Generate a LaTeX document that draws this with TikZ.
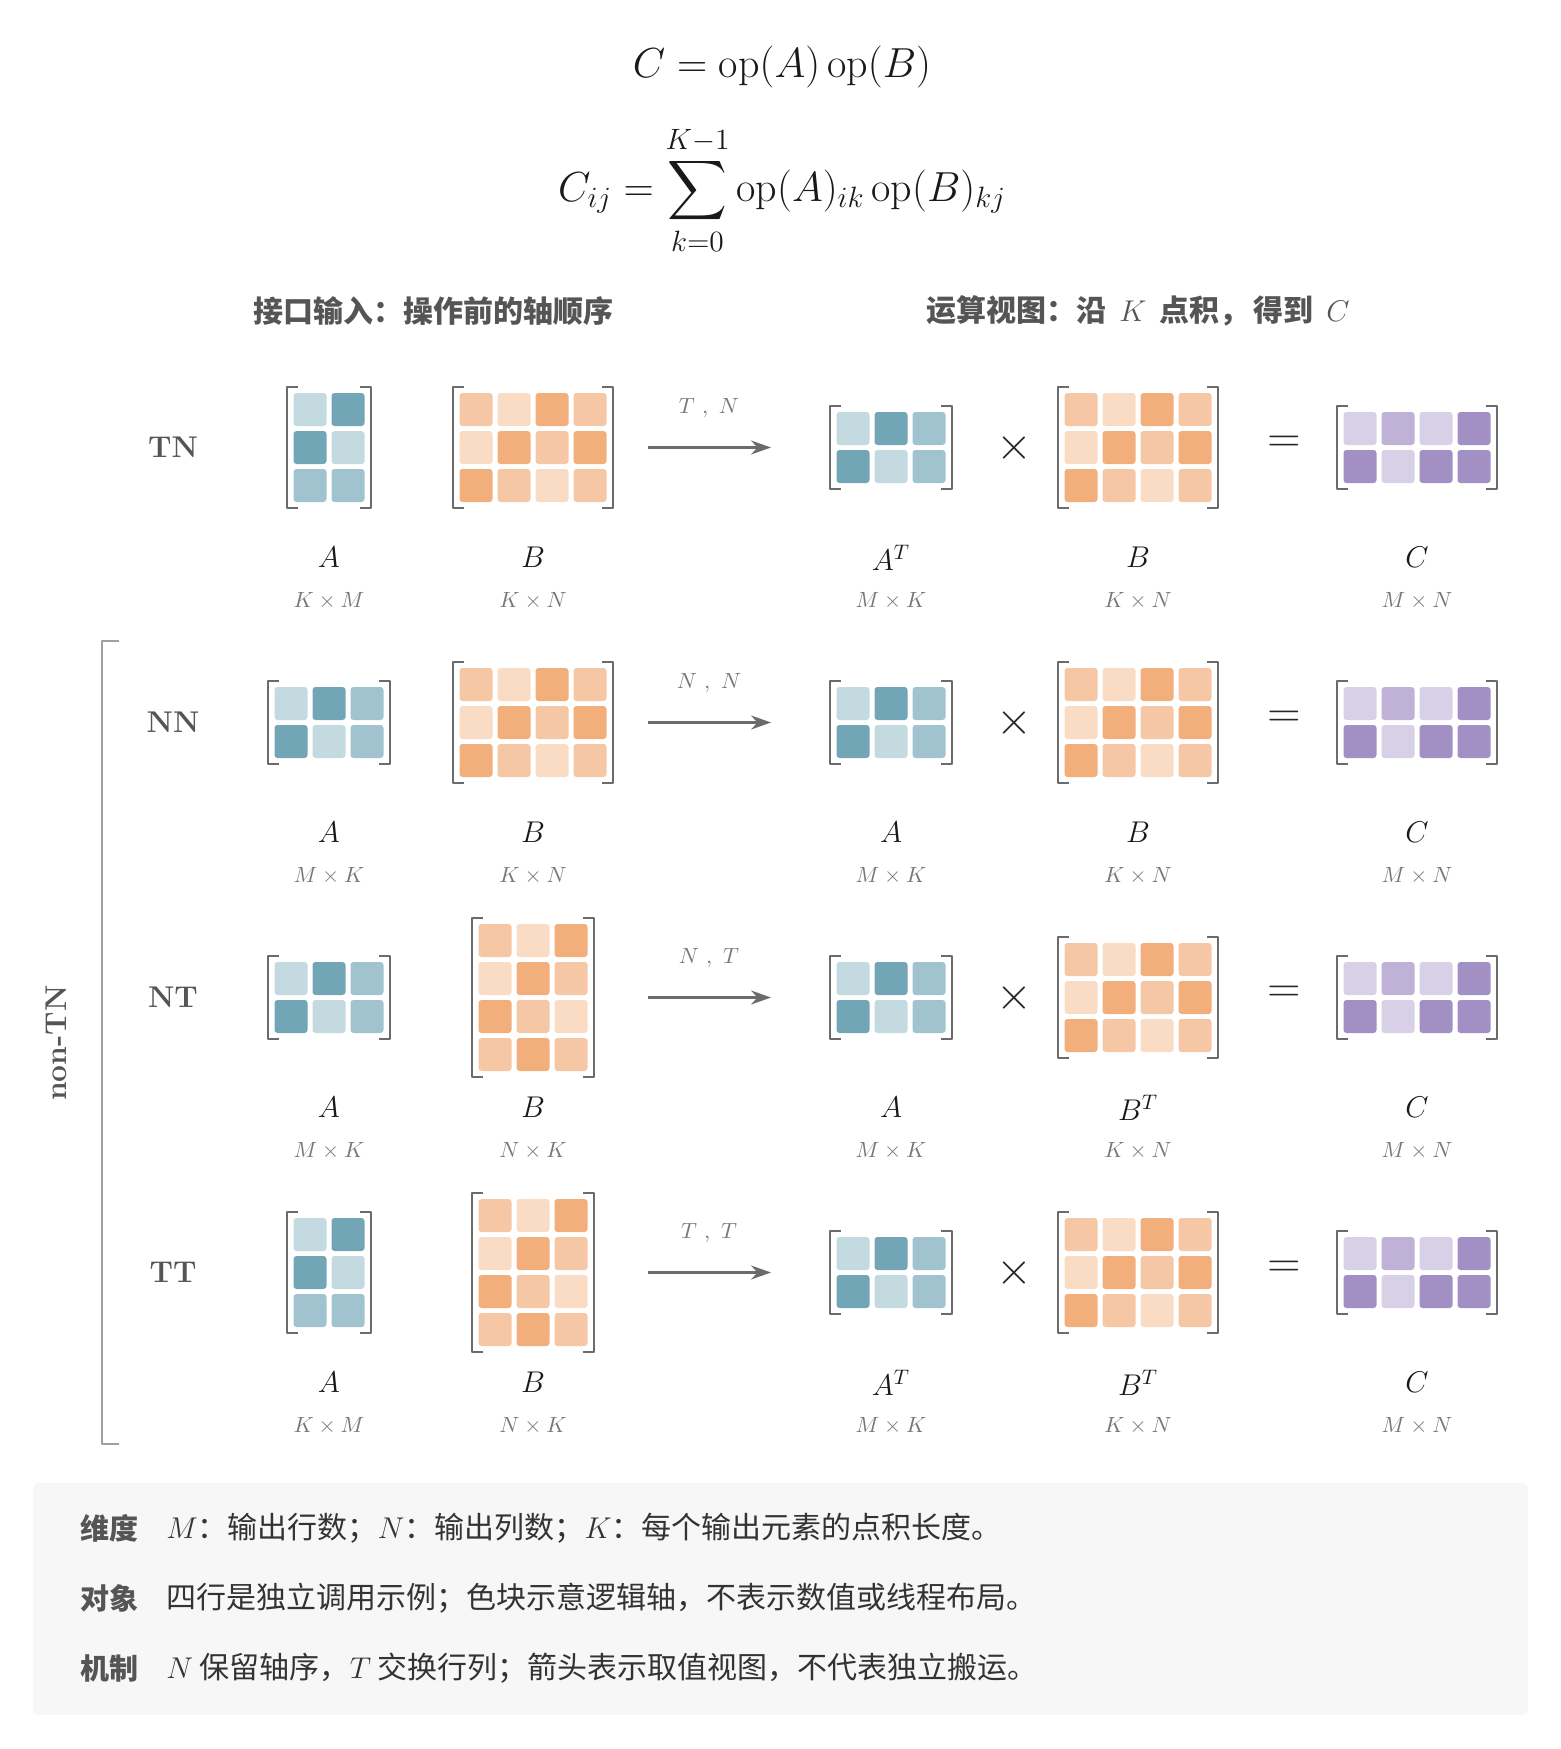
\RequirePackage{fix-cm}
\documentclass[tikz,border=0pt]{standalone}
\usepackage{amsmath}
\usepackage{fontspec}
\newfontfamily\cjk{Noto Sans CJK SC}
\usetikzlibrary{arrows.meta}

\definecolor{blu1}{HTML}{C3DAE1}
\definecolor{blu2}{HTML}{A0C3CF}
\definecolor{blu3}{HTML}{72A6B7}
\definecolor{org1}{HTML}{FADCC5}
\definecolor{org2}{HTML}{F6C7A4}
\definecolor{org3}{HTML}{F2AE7B}
\definecolor{pur1}{HTML}{D8D0E6}
\definecolor{pur2}{HTML}{BFB2D6}
\definecolor{pur3}{HTML}{A28FC4}
\definecolor{inkgray}{HTML}{555555}
\definecolor{dimgray}{HTML}{777777}
\definecolor{brkgray}{HTML}{6B6B6B}
\definecolor{grpgray}{HTML}{A0A0A0}
\definecolor{boxbg}{HTML}{F7F7F7}

\tikzset{
  formula/.style={font=\fontsize{21}{25}\selectfont, text=black!90},
  head/.style={font=\fontsize{15}{18}\selectfont\cjk\bfseries, text=inkgray},
  rowlab/.style={font=\fontsize{15}{18}\selectfont\bfseries, text=inkgray},
  mname/.style={font=\fontsize{15}{18}\selectfont, text=black!90},
  dimlab/.style={font=\fontsize{11}{13}\selectfont, text=dimgray},
  opsym/.style={font=\fontsize{23}{26}\selectfont, text=black!85},
  flow/.style={draw=brkgray, line width=1.2pt, -{Stealth[length=10pt,width=7pt]}},
  brk/.style={draw=brkgray, line width=1pt},
  note/.style={anchor=west, inner sep=0pt, font=\fontsize{15}{18}\selectfont\cjk, text=black!80},
  notelab/.style={anchor=west, inner sep=0pt, font=\fontsize{14.5}{17}\selectfont\cjk\bfseries, text=inkgray},
}

% x, y, colour prefix, cols, rows, entries (1 light .. 3 dark)
\newcommand{\cellmat}[6]{%
  \pgfmathsetmacro\cmw{#4*38-5}%
  \pgfmathsetmacro\cmh{#5*38-5}%
  \pgfmathsetmacro\cmx{#1-\cmw/2}%
  \pgfmathsetmacro\cmy{#2-\cmh/2}%
  \foreach \row [count=\i from 0] in {#6}{
    \foreach \v [count=\j from 0] in \row
      \fill[#3\v, rounded corners=1.5pt] ({\cmx+\j*38},{\cmy+\i*38}) rectangle ++(33,33);
  }
  \draw[brk] ({\cmx+4.5},{\cmy-6}) -| ({\cmx-6.5},{\cmy+\cmh+6}) -- ++(11,0);
  \draw[brk] ({\cmx+\cmw-4.5},{\cmy-6}) -| ({\cmx+\cmw+6.5},{\cmy+\cmh+6}) -- ++(-11,0);
}

\begin{document}
\begin{tikzpicture}[x=0.5pt, y=-0.5pt, line join=round]
  \useasboundingbox (0,0) rectangle (1560,1749);
  \def\xA{329} \def\xB{533} \def\xoA{891} \def\xt{1014} \def\xoB{1138} \def\xe{1284} \def\xC{1417}

  % formulas
  \node[formula] (eqC) at (782,67) {$C=\mathrm{op}(A)\,\mathrm{op}(B)$};
  \node[formula] (eqS) at (782,190) {$\displaystyle C_{ij}=\sum_{k=0}^{K-1}\mathrm{op}(A)_{ik}\,\mathrm{op}(B)_{kj}$};

  % column heads
  \node[head] (hin) at (433,311) {接口输入：操作前的轴顺序};
  \node[head] (hop) at (1138,311) {运算视图：沿\hspace{3pt} \mdseries$K$\bfseries{}\hspace{3pt} 点积，\hspace{2pt}得到\hspace{3pt} \mdseries$C$};

  % right side: the view the kernel computes with
  \foreach \y/\k/\nA/\nB/\ta/\tb in {447.5/tn/A^T/B/T/N, 722.5/nn/A/B/N/N, 997.5/nt/A/B^T/N/T, 1272.5/tt/A^T/B^T/T/T}{
    \cellmat{\xoA}{\y}{blu}{3}{2}{{1,3,2},{3,1,2}}
    \cellmat{\xoB}{\y}{org}{4}{3}{{2,1,3,2},{1,3,2,3},{3,2,1,2}}
    \cellmat{\xC}{\y}{pur}{4}{2}{{1,2,1,3},{3,1,3,3}}
    \node[opsym] (x\k) at (\xt,\y) {$\times$};
    \node[opsym] (e\k) at (\xe,\y-3) {$=$};
    \node[mname] (na\k) at (\xoA,\y+110) {$\nA$};
    \node[mname] (nb\k) at (\xoB,\y+110) {$\nB$};
    \node[mname] (nc\k) at (\xC,\y+110) {$C$};
    \node[dimlab] (da\k) at (\xoA,\y+153) {$M\times K$};
    \node[dimlab] (db\k) at (\xoB,\y+153) {$K\times N$};
    \node[dimlab] (dc\k) at (\xC,\y+153) {$M\times N$};
    \coordinate (s\k) at (648,\y);
    \coordinate (t\k) at (771,\y);
    \draw[flow] (s\k) -- (t\k);
    \node[dimlab] (tr\k) at (709,\y-39) {$\ta\ ,\ \tb$};
  }

  % left side: operands as passed in
  \node[rowlab] (ltn) at (173,447.5) {TN};
  \cellmat{\xA}{447.5}{blu}{2}{3}{{1,3},{3,1},{2,2}}
  \cellmat{\xB}{447.5}{org}{4}{3}{{2,1,3,2},{1,3,2,3},{3,2,1,2}}
  \node[mname] (atn) at (\xA,557.5) {$A$};
  \node[mname] (btn) at (\xB,557.5) {$B$};
  \node[dimlab] (satn) at (\xA,600.5) {$K\times M$};
  \node[dimlab] (sbtn) at (\xB,600.5) {$K\times N$};

  \node[rowlab] (lnn) at (173,722.5) {NN};
  \cellmat{\xA}{722.5}{blu}{3}{2}{{1,3,2},{3,1,2}}
  \cellmat{\xB}{722.5}{org}{4}{3}{{2,1,3,2},{1,3,2,3},{3,2,1,2}}
  \node[mname] (ann) at (\xA,832.5) {$A$};
  \node[mname] (bnn) at (\xB,832.5) {$B$};
  \node[dimlab] (sann) at (\xA,875.5) {$M\times K$};
  \node[dimlab] (sbnn) at (\xB,875.5) {$K\times N$};

  \node[rowlab] (lnt) at (173,997.5) {NT};
  \cellmat{\xA}{997.5}{blu}{3}{2}{{1,3,2},{3,1,2}}
  \cellmat{\xB}{997.5}{org}{3}{4}{{2,1,3},{1,3,2},{3,2,1},{2,3,2}}
  \node[mname] (ant) at (\xA,1107.5) {$A$};
  \node[mname] (bnt) at (\xB,1107.5) {$B$};
  \node[dimlab] (sant) at (\xA,1150.5) {$M\times K$};
  \node[dimlab] (sbnt) at (\xB,1150.5) {$N\times K$};

  \node[rowlab] (ltt) at (173,1272.5) {TT};
  \cellmat{\xA}{1272.5}{blu}{2}{3}{{1,3},{3,1},{2,2}}
  \cellmat{\xB}{1272.5}{org}{3}{4}{{2,1,3},{1,3,2},{3,2,1},{2,3,2}}
  \node[mname] (att) at (\xA,1382.5) {$A$};
  \node[mname] (btt) at (\xB,1382.5) {$B$};
  \node[dimlab] (satt) at (\xA,1425.5) {$K\times M$};
  \node[dimlab] (sbtt) at (\xB,1425.5) {$N\times K$};

  % group bracket
  \draw[draw=grpgray, line width=1pt] (119,641) -- (102,641) -- (102,1444) -- (119,1444);
  \node[rowlab, rotate=90] (grp) at (56,1043) {non-TN};

  % notes
  \fill[boxbg, rounded corners=3pt] (33,1483) rectangle (1528,1715);
  \node[notelab] (k1) at (80,1528) {维度};
  \node[note] (t1) at (166,1528) {$M$：输出行数；$N$：输出列数；$K$：每个输出元素的点积长度。};
  \node[notelab] (k2) at (80,1598) {对象};
  \node[note] (t2) at (166,1598) {四行是独立调用示例；色块示意逻辑轴，不表示数值或线程布局。};
  \node[notelab] (k3) at (80,1668) {机制};
  \node[note] (t3) at (166,1668) {$N$ 保留轴序，$T$ 交换行列；箭头表示取值视图，不代表独立搬运。};
\end{tikzpicture}
\end{document}
